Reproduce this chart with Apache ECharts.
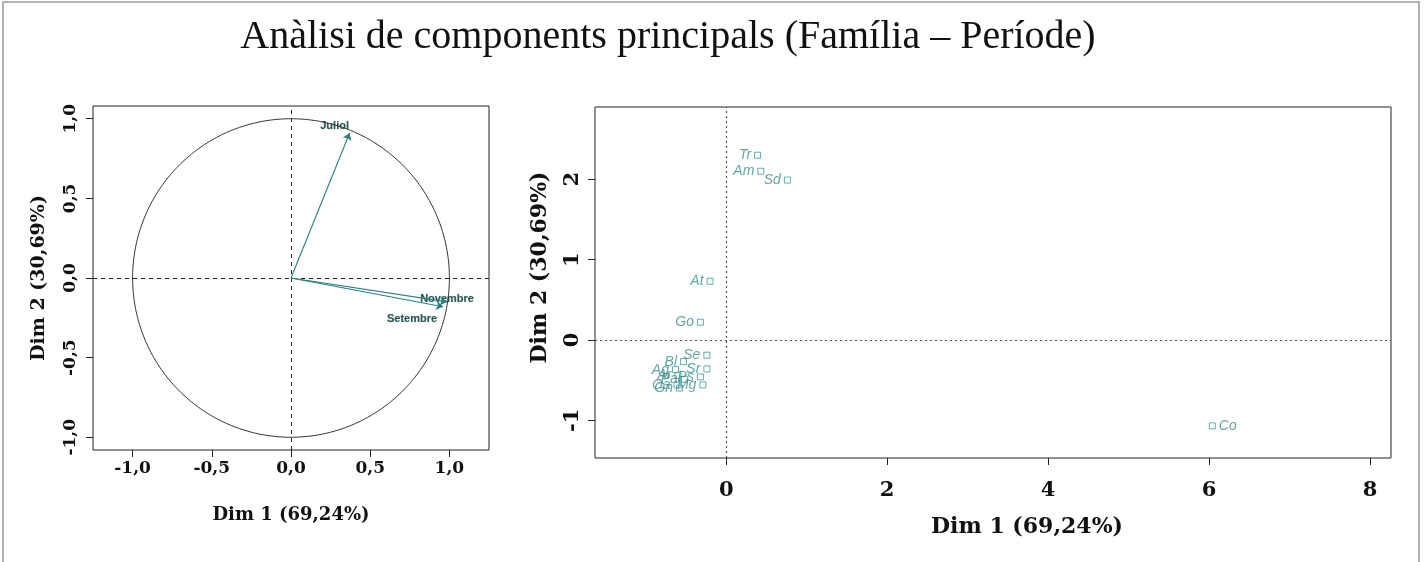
<!DOCTYPE html>
<html><head><meta charset="utf-8">
<script src="https://cdn.jsdelivr.net/npm/echarts@6/dist/echarts.min.js"></script>
<style>html,body{margin:0;padding:0;background:#fff}#c{width:1424px;height:562px}</style>
</head><body><div id="c"></div>
<script>
// ---- data ----
const titleText = 'Anàlisi de components principals (Família – Període)';
const dim1Name = 'Dim 1 (69,24%)';
const dim2Name = 'Dim 2 (30,69%)';
const circleTicks = [-1, -0.5, 0, 0.5, 1];
const indXTicks = [0, 2, 4, 6, 8];
const indYTicks = [-1, 0, 1, 2];
const varNames = ['Juliol', 'Novembre', 'Setembre'];
const varDim1 = [0.37, 0.985, 0.96];
const varDim2 = [0.91, -0.15, -0.18];
const indNames = ['Tr', 'Am', 'Sd', 'At', 'Go', 'Co', 'Se', 'Bl', 'Sr', 'Ag', 'Ar', 'Pa', 'Ps', 'Oa', 'Gn', 'Mg'];
const indDim1 = [0.39, 0.43, 0.76, -0.20, -0.32, 6.04, -0.24, -0.53, -0.24, -0.63, -0.60, -0.52, -0.32, -0.61, -0.58, -0.29];
const indDim2 = [2.30, 2.10, 1.99, 0.73, 0.22, -1.07, -0.19, -0.27, -0.36, -0.37, -0.44, -0.49, -0.46, -0.56, -0.60, -0.56];

// ---- styles ----
const serif = 'DejaVu Serif';
const teal = '#2b7f7f';
const tealLight = '#3c9a9a';
const comma1 = v => v.toFixed(1).replace('.', ',');
const varLabelPlace = {
  Juliol: {position: 'top', distance: 2, offset: [-15, 0]},
  Novembre: {position: 'inside', offset: [0, -3]},
  Setembre: {position: 'inside', offset: [-31, 12]}
};
const indLabelPlace = {
  Tr: {position: 'left', offset: [0, -4]},
  Sd: {position: 'left', offset: [0, 8]},
  Co: {position: 'right', offset: [0, 9]}
};

const circle = [];
for (let i = 0; i <= 360; i++) {
  const t = i * Math.PI / 180;
  circle.push([Math.cos(t), Math.sin(t)]);
}

function axisCommon(ticks, fmt, fontSize, margin, rotate, nameSize) {
  return {
    axisLine: {show: false, onZero: false},
    splitLine: {show: false},
    axisTick: {show: true, inside: false, length: 7, customValues: ticks, lineStyle: {color: '#222', width: 1}},
    axisLabel: {show: true, customValues: ticks, formatter: fmt, rotate: rotate || 0, margin: margin,
      fontFamily: serif, fontWeight: 'bold', fontSize: fontSize, color: '#111'},
    nameTextStyle: {fontFamily: serif, fontWeight: 'bold', fontSize: nameSize, color: '#111'}
  };
}

const chart = echarts.init(document.getElementById('c'), null, {renderer: 'canvas'});
chart.setOption({
  animation: false,
  backgroundColor: '#fff',
  title: {text: titleText, left: 663, top: 12, textAlign: 'center',
    textStyle: {fontFamily: 'Liberation Serif', fontWeight: 'normal', fontSize: 40, color: '#111'}},
  graphic: [{type: 'rect', shape: {x: 3, y: 2, width: 1416, height: 620}, style: {fill: 'none', stroke: '#9a9a9a', lineWidth: 1.5}, silent: true}],
  grid: [
    {left: 93, top: 106, width: 396, height: 344, show: true, borderColor: '#222', borderWidth: 1, backgroundColor: 'transparent'},
    {left: 595, top: 107, width: 796, height: 351, show: true, borderColor: '#222', borderWidth: 1, backgroundColor: 'transparent'}
  ],
  xAxis: [
    Object.assign(axisCommon(circleTicks, comma1, 17, 10, 0, 18), {gridIndex: 0, type: 'value', min: -1.25, max: 1.25,
      name: dim1Name, nameLocation: 'middle', nameGap: 56}),
    Object.assign(axisCommon(indXTicks, v => String(v), 21, 22, 0, 22), {gridIndex: 1, type: 'value', min: -1.63, max: 8.26,
      name: dim1Name, nameLocation: 'middle', nameGap: 58, nameTextStyle: {fontFamily: serif, fontWeight: 'bold', fontSize: 22, color: '#111', padding: [0, 0, 0, 68]}})
  ],
  yAxis: [
    Object.assign(axisCommon(circleTicks, comma1, 17, 14, 90, 19), {gridIndex: 0, type: 'value', min: -1.08, max: 1.08,
      name: dim2Name, nameLocation: 'middle', nameGap: 44, nameRotate: 90}),
    Object.assign(axisCommon(indYTicks, v => String(v), 21, 12, 90, 22), {gridIndex: 1, type: 'value', min: -1.47, max: 2.9,
      name: dim2Name, nameLocation: 'middle', nameGap: 44, nameRotate: 90,
      nameTextStyle: {fontFamily: serif, fontWeight: 'bold', fontSize: 22, color: '#111', padding: [0, 0, 0, 30]}})
  ],
  series: [
    {type: 'line', xAxisIndex: 0, yAxisIndex: 0, data: circle, showSymbol: false, silent: true,
      lineStyle: {color: '#333', width: 1},
      markLine: {silent: true, symbol: 'none', label: {show: false},
        lineStyle: {color: '#222', type: [4, 4], width: 1},
        data: [{xAxis: 0}, {yAxis: 0}]}},
    {type: 'scatter', xAxisIndex: 0, yAxisIndex: 0, symbolSize: 0, silent: true,
      data: varNames.map((n, i) => ({name: n, value: [varDim1[i], varDim2[i]],
        label: Object.assign({show: true, formatter: n}, varLabelPlace[n])})),
      label: {fontFamily: 'Liberation Sans', fontWeight: 'bold', fontSize: 11, color: '#1c3d3d',
        textShadowColor: 'rgba(43,127,127,0.8)', textShadowBlur: 1},
      markLine: {silent: true, symbol: ['none', 'arrow'], symbolSize: 7, label: {show: false},
        lineStyle: {color: teal, type: 'solid', width: 1.1},
        data: varNames.map((n, i) => [{coord: [0, 0]}, {coord: [varDim1[i], varDim2[i]]}])}},
    {type: 'scatter', xAxisIndex: 1, yAxisIndex: 1, symbol: 'rect', symbolSize: 6, silent: true,
      itemStyle: {color: 'rgba(255,255,255,0)', borderColor: tealLight, borderWidth: 1},
      data: indNames.map((n, i) => ({name: n, value: [indDim1[i], indDim2[i]],
        label: Object.assign({show: true, position: 'left', distance: 3, formatter: n}, indLabelPlace[n] || {})})),
      label: {fontFamily: 'Liberation Sans', fontStyle: 'italic', fontSize: 14, color: '#3a8e8e'},
      labelLayout: {hideOverlap: false},
      markLine: {silent: true, symbol: 'none', label: {show: false},
        lineStyle: {color: '#555', type: [2, 3], width: 1.2},
        data: [{xAxis: 0}, {yAxis: 0}]}}
  ]
});
</script></body></html>
